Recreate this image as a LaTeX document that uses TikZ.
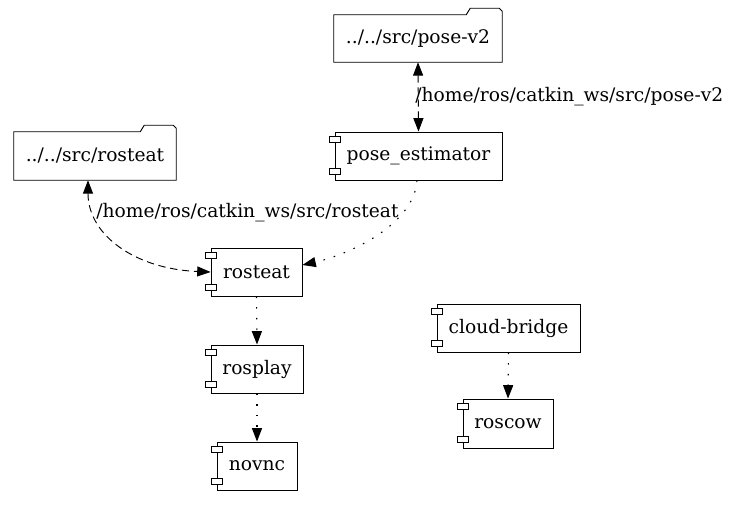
\documentclass[tikz,border=0pt]{standalone}
\usepackage{fontspec}
\setmainfont{DejaVu Serif}
\usetikzlibrary{arrows.meta}
\begin{document}
\begin{tikzpicture}[x=0.75pt,y=-0.75pt,
  box/.style={inner sep=0pt, font=\fontsize{14}{16}\selectfont, minimum height=36pt},
  comp/.style={box, draw, line width=0.7pt},
  folder/.style={box},
  tri/.style={-{Triangle[length=10pt,width=7.5pt]}},
  bitri/.style={{Triangle[length=10pt,width=7.5pt]}-{Triangle[length=10pt,width=7.5pt]}},
  dashline/.style={line width=0.7pt, dash pattern=on 5.5pt off 3.5pt},
  dotline/.style={line width=0.8pt, dash pattern=on 1.2pt off 6.8pt},
  lbl/.style={inner sep=0pt, anchor=west, font=\fontsize{14}{16}\selectfont}]
\useasboundingbox (0,0) rectangle (735,505);
% folders
\node[folder, minimum width=126pt, minimum height=35.25pt] (pv2) at (418,38.5) {../../src/pose-v2};
\node[folder, minimum width=121.5pt] (rf) at (95,156) {../../src/rosteat};
\foreach \f in {pv2,rf}{
  \draw[line width=0.7pt] (\f.south west) -- (\f.north west) -- ([shift={(-36,0)}]\f.north east)
    -- ([shift={(-32,-6.5)}]\f.north east) -- ([shift={(-3,-6.5)}]\f.north east)
    -- ([shift={(0,-3.5)}]\f.north east) -- (\f.south east) -- cycle;
}
% components
\node[comp, minimum width=125.25pt] (pe) at (418.5,156) {pose\_estimator};
\node[comp, minimum width=68.25pt] (rosteat) at (256.5,272) {rosteat};
\node[comp, minimum width=69pt] (rosplay) at (257,369) {rosplay};
\node[comp, minimum width=60pt] (novnc) at (257,466) {novnc};
\node[comp, minimum width=107.25pt] (cb) at (508.5,328) {cloud-bridge};
\node[comp, minimum width=67.5pt, minimum height=36.75pt] (roscow) at (508,423.5) {roscow};
\foreach \n in {pe,rosteat,rosplay,novnc,cb,roscow}{
  \draw[line width=0.7pt, fill=white] ([shift={(-5.5,5)}]\n.north west) rectangle ++(11,5.5);
  \draw[line width=0.7pt, fill=white] ([shift={(-5.5,-11.5)}]\n.south west) rectangle ++(11,5.5);
}
% edges
\draw[dashline, bitri] (pv2.south) -- (pe.north);
\node[lbl] (l1) at (415,97) {/home/ros/catkin\_ws/src/pose-v2};
\draw[dashline, bitri] ([shift={(-7,0)}]rf.south) .. controls +(0,55) and +(-75,-3) .. (rosteat.west);
\node[lbl] (l2) at (96,213) {/home/ros/catkin\_ws/src/rosteat};
\draw[dotline, tri] ([shift={(-1.5,0)}]pe.south) .. controls +(-3,45) and +(45,-10) .. ([shift={(0,-7)}]rosteat.east);
\draw[dotline, tri] (rosteat.south) -- (rosplay.north);
\draw[dotline, tri] (rosplay.south) -- (novnc.north);
\draw[dotline, tri] (cb.south) -- (roscow.north);
\end{tikzpicture}
\end{document}
